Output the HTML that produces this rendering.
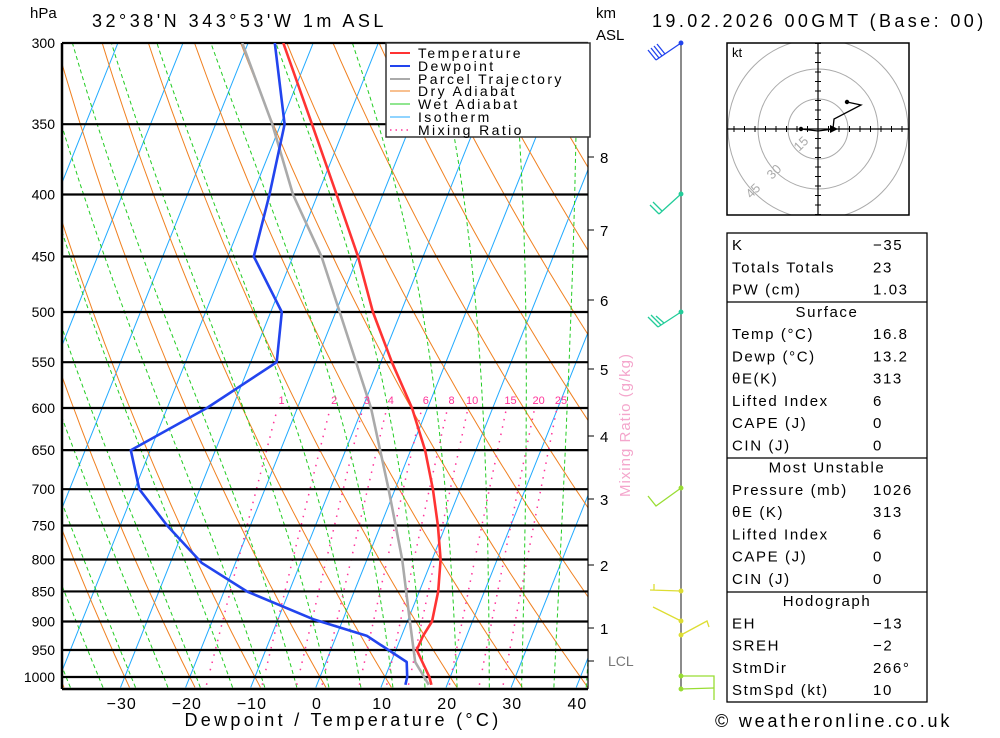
<!DOCTYPE html>
<html><head><meta charset="utf-8">
<style>
body{margin:0;background:#fff;}
svg text{font-family:"Liberation Sans",sans-serif;}
</style></head>
<body>
<svg id="chart" width="1000" height="733" viewBox="0 0 1000 733" xmlns="http://www.w3.org/2000/svg">
<defs><clipPath id="plotclip"><rect x="62" y="43" width="526" height="646"/></clipPath>
<clipPath id="hodoclip"><rect x="727" y="43" width="182" height="172"/></clipPath></defs>
<rect x="0" y="0" width="1000" height="733" fill="#fff"/>
<g id="bg" clip-path="url(#plotclip)"></g>
<g id="isobars"></g>
<g id="profiles" clip-path="url(#plotclip)"></g>
<g id="axes"></g>
<text x="30" y="18" font-size="15">hPa</text>
<text x="92" y="27" font-size="18" letter-spacing="3.5">32°38'N 343°53'W 1m ASL</text>
<text x="596" y="18" font-size="15">km</text>
<text x="596" y="40" font-size="15">ASL</text>
<text x="652" y="27" font-size="18" letter-spacing="3.4">19.02.2026 00GMT (Base: 00)</text>
<text x="343" y="726" font-size="18" text-anchor="middle" letter-spacing="3.3">Dewpoint / Temperature (°C)</text>
<text transform="translate(630,425) rotate(-90)" font-size="15" text-anchor="middle" fill="#f4a6cc" letter-spacing="1">Mixing Ratio (g/kg)</text>
<g>
<rect x="386" y="43" width="204" height="94" fill="#fff" stroke="#333" stroke-width="1.5"/>
<line x1="390" y1="53" x2="410" y2="53" stroke="#ff3333" stroke-width="2"/><text x="418" y="58" font-size="14" letter-spacing="2.4">Temperature</text>
<line x1="390" y1="66" x2="410" y2="66" stroke="#2244ee" stroke-width="2"/><text x="418" y="71" font-size="14" letter-spacing="2.4">Dewpoint</text>
<line x1="390" y1="79" x2="410" y2="79" stroke="#aaa" stroke-width="2"/><text x="418" y="84" font-size="14" letter-spacing="2.4">Parcel Trajectory</text>
<line x1="390" y1="91" x2="410" y2="91" stroke="#f08020" stroke-width="1"/><text x="418" y="96" font-size="14" letter-spacing="2.4">Dry Adiabat</text>
<line x1="390" y1="104" x2="410" y2="104" stroke="#22cc22" stroke-width="1"/><text x="418" y="109" font-size="14" letter-spacing="2.4">Wet Adiabat</text>
<line x1="390" y1="117" x2="410" y2="117" stroke="#22aaff" stroke-width="1"/><text x="418" y="122" font-size="14" letter-spacing="2.4">Isotherm</text>
<line x1="390" y1="130" x2="410" y2="130" stroke="#ff3399" stroke-width="1.5" stroke-dasharray="1.5 4"/><text x="418" y="135" font-size="14" letter-spacing="2.4">Mixing Ratio</text>
</g>
<g id="barbs">
<line x1="681" y1="43" x2="681" y2="690" stroke="#666" stroke-width="1.5"/>
<g stroke="#2244ee" stroke-width="1.3" fill="none"><circle cx="681" cy="43" r="1.8" fill="#2244ee"/><path d="M681 43 L656 60 M656 60 L648 50 M659 58 L651 48 M662 56 L654 46 M665 54 L657 44"/></g>
<g stroke="#22cc99" stroke-width="1.3" fill="none"><circle cx="681" cy="194" r="1.8" fill="#22cc99"/><path d="M681 194 L659 214 M659 214 L650 205 M662 211 L653 202"/></g>
<g stroke="#22cc99" stroke-width="1.3" fill="none"><circle cx="681" cy="312" r="1.8" fill="#22cc99"/><path d="M681 312 L658 327 M658 327 L648 317 M661 325 L651 315 M664 323 L656 316"/></g>
<g stroke="#99dd33" stroke-width="1.3" fill="none"><circle cx="681" cy="488" r="1.8" fill="#99dd33"/><path d="M681 488 L656 506 L648 496"/></g>
<g stroke="#dddd33" stroke-width="1.3" fill="none"><circle cx="681" cy="591" r="1.8" fill="#dddd33"/><path d="M681 591 L650 590 M654 590 L654 584"/></g>
<g stroke="#dddd33" stroke-width="1.3" fill="none"><circle cx="681" cy="621" r="1.8" fill="#dddd33"/><path d="M681 621 L653 607"/></g>
<g stroke="#dddd33" stroke-width="1.3" fill="none"><circle cx="681" cy="635" r="1.8" fill="#dddd33"/><path d="M681 635 L707 621 L709 627"/></g>
<g stroke="#99dd33" stroke-width="1.3" fill="none"><circle cx="681" cy="676" r="1.8" fill="#99dd33"/><path d="M681 676 L714 676 L714 700"/></g>
<g stroke="#99dd33" stroke-width="1.3" fill="none"><circle cx="681" cy="689" r="1.8" fill="#99dd33"/><path d="M681 689 L714 688"/></g>
</g>
<g>
<rect x="727" y="43" width="182" height="172" fill="#fff"/>
<g clip-path="url(#hodoclip)">
<circle cx="818" cy="129" r="30" fill="none" stroke="#aaa"/>
<circle cx="818" cy="129" r="60" fill="none" stroke="#aaa"/>
<circle cx="818" cy="129" r="90" fill="none" stroke="#aaa"/>
<line x1="727" y1="129" x2="909" y2="129" stroke="#000" stroke-width="1.2"/>
<line x1="818" y1="43" x2="818" y2="215" stroke="#000" stroke-width="1.2"/>
<path id="hticks" stroke="#000" fill="none"/>
</g>
<rect x="727" y="43" width="182" height="172" fill="none" stroke="#000" stroke-width="1.5"/>
<text x="732" y="57" font-size="13">kt</text>
<text transform="translate(799,152) rotate(-45)" font-size="13" fill="#aaa">15</text>
<text transform="translate(772,180) rotate(-45)" font-size="13" fill="#aaa">30</text>
<text transform="translate(751,199) rotate(-45)" font-size="13" fill="#aaa">45</text>
<path d="M801 129 L818 131 L833 129 L834 119 L861 105 L847 102" stroke="#000" stroke-width="1.3" fill="none"/>
<circle cx="801" cy="129" r="2.2"/><circle cx="847" cy="102" r="2.2"/><path d="M830 125 L838 129 L830 133Z"/>
</g>
<g font-size="15" letter-spacing="1.6">
<rect x="727" y="233" width="200" height="469" fill="#fff" stroke="#000" stroke-width="1.3"/>
<line x1="727" y1="302" x2="927" y2="302" stroke="#000" stroke-width="1.3"/>
<line x1="727" y1="458" x2="927" y2="458" stroke="#000" stroke-width="1.3"/>
<line x1="727" y1="592" x2="927" y2="592" stroke="#000" stroke-width="1.3"/>
<g id="tablerows"></g>
</g>
<text x="715" y="727" font-size="18" letter-spacing="2.8">© weatheronline.co.uk</text>
</svg>
<script>
// ---- data ----
const presLevels=[300,350,400,450,500,550,600,650,700,750,800,850,900,950,1000];
const tempP=[300,350,400,450,500,550,600,650,700,750,800,850,900,925,950,1000,1015];
const tempC=[-44.6,-35.2,-27.1,-20.0,-14.3,-8.3,-2.4,2.2,5.8,8.8,11.3,12.9,13.8,13.3,13.2,16.8,17.6];
const dewP=[300,350,400,450,500,550,600,650,700,750,805,850,896,925,972,1000,1015];
const dewC=[-45.9,-39.4,-37.4,-36.0,-28.3,-26.0,-33.9,-43.0,-39.3,-32.8,-25.2,-16.5,-4.6,4.7,12.4,13.4,13.6];
const parcelP=[300,350,400,450,500,600,700,800,900,972,1000,1015];
const parcelC=[-50.9,-41.3,-33.8,-25.6,-19.4,-8.7,-1.0,5.4,10.4,13.7,16.0,17.2];
const xTicks=[-30,-20,-10,0,10,20,30,40];
const mixRatios=[1,2,3,4,6,8,10,15,20,25];
const kmLabels=["1","2","3","4","5","6","7","8"];
const kmY=[628,565,499,436,369,300,230,157];
const tableRows=[["K","−35"],["Totals Totals","23"],["PW (cm)","1.03"],["@Surface",""],["Temp (°C)","16.8"],["Dewp (°C)","13.2"],["θE(K)","313"],["Lifted Index","6"],["CAPE (J)","0"],["CIN (J)","0"],["@Most Unstable",""],["Pressure (mb)","1026"],["θE (K)","313"],["Lifted Index","6"],["CAPE (J)","0"],["CIN (J)","0"],["@Hodograph",""],["EH","−13"],["SREH","−2"],["StmDir","266°"],["StmSpd (kt)","10"]];
// ---- axes funcs ----
const NS="http://www.w3.org/2000/svg";
function yOf(p){return 43+Math.log(p/300)/Math.log(1000/300)*634;}
function xOf(T,p){return 320+6.51*T+0.4*(677-yOf(p));}
function mk(tag,attrs,parent){const e=document.createElementNS(NS,tag);for(const k in attrs)e.setAttribute(k,attrs[k]);parent.appendChild(e);return e;}
const bg=document.getElementById('bg');
function polyD(pts){return pts.map((q,i)=>(i?'L':'M')+q[0].toFixed(1)+' '+q[1].toFixed(1)).join(' ');}
for(let T=-110;T<=40;T+=10){
  const e=mk('line',{x1:xOf(T,1020),y1:yOf(1020),x2:xOf(T,290),y2:yOf(290),stroke:'#22aaff','stroke-width':1},bg);
  
  
}
for(let th=-40;th<=200;th+=10){
  const pts=[];for(let p=1020;p>=290;p-=10){pts.push([xOf((th+273.15)*Math.pow(p/1000,0.2857)-273.15,p),yOf(p)]);}
  const e=mk('path',{d:polyD(pts),stroke:'#f08020','stroke-width':1,fill:'none'},bg);
  
  
}
function es(T){return 6.112*Math.exp(17.67*T/(T+243.5));}
for(let tw=-39;tw<=41;tw+=5){
  let Tb=tw;for(let p=1000;p<1020;p+=2){const Tk=Tb+273.15,rs=0.622*es(Tb)/(p-es(Tb));const g=(287*Tk/p)*(1+2.5e6*rs/(287*Tk))/(1004+2.5e6*2.5e6*rs*0.622/(287*Tk*Tk));Tb+=g*2;}
  let T=Tb;const pts=[];
  for(let p=1020;p>=290;p-=2){
    if(p%10===0)pts.push([xOf(T,p),yOf(p)]);
    const Tk=T+273.15,rs=0.622*es(T)/(p-es(T));
    const g=(287*Tk/p)*(1+2.5e6*rs/(287*Tk))/(1004+2.5e6*2.5e6*rs*0.622/(287*Tk*Tk));
    T-=g*2;
  }
  const e=mk('path',{d:polyD(pts),stroke:'#22cc22','stroke-width':1,fill:'none','stroke-dasharray':'4 3'},bg);
  
  
}
function tdFromW(w,p){const e=w*p/(622+w);const l=Math.log(e/6.112);return 243.5*l/(17.67-l);}
mixRatios.forEach(w=>{
  const pts=[];for(let p=1015;p>=600;p-=5)pts.push([xOf(tdFromW(w,p),p),yOf(p)]);
  const e=mk('path',{d:polyD(pts),stroke:'#ff3399','stroke-width':1.5,fill:'none','stroke-dasharray':'1.5 6'},bg);
  
  
  const t=mk('text',{x:xOf(tdFromW(w,600),600)+4,y:404,'font-size':11,fill:'#ff3399','text-anchor':'middle'},document.getElementById('axes'));
  t.textContent=w;
  
  
});
const iso=document.getElementById('isobars'),ax=document.getElementById('axes');
presLevels.forEach(p=>{
  const y=yOf(p);
  const l=mk('line',{x1:62,y1:y,x2:588,y2:y,stroke:'#000','stroke-width':2.2},iso);
  
  
  const t=mk('text',{x:55,y:y+5,'font-size':14,'text-anchor':'end'},ax);
  t.textContent=p;
  
  
});
mk('line',{x1:62,y1:43,x2:62,y2:689,stroke:'#000','stroke-width':2.5},ax);
mk('line',{x1:62,y1:689,x2:588,y2:689,stroke:'#000','stroke-width':2.5},ax);
mk('line',{x1:588,y1:43,x2:588,y2:689,stroke:'#000','stroke-width':1.2},ax);
xTicks.forEach(T=>{
  const t=mk('text',{x:320+6.51*T-3,y:709,'font-size':16,'text-anchor':'middle','letter-spacing':1},ax);
  t.textContent=T<0?'−'+(-T):T;
  
  
});
kmLabels.forEach((k,i)=>{
  mk('line',{x1:588,y1:kmY[i],x2:594,y2:kmY[i],stroke:'#000'},ax);
  const t=mk('text',{x:600,y:kmY[i]+6,'font-size':15},ax);
  t.textContent=k;
  
  
});
mk('line',{x1:588,y1:661,x2:594,y2:661,stroke:'#000'},ax);
const lcl=mk('text',{x:608,y:666,'font-size':14,fill:'#777'},ax);lcl.textContent='LCL';
const pr=document.getElementById('profiles');
function drawProf(P,T,color,name){
  const pts=P.map((p,i)=>[xOf(T[i],p),yOf(p)]);
  const e=mk('path',{d:polyD(pts),stroke:color,'stroke-width':2.6,fill:'none','stroke-linejoin':'round'},pr);
  
  
}
drawProf(parcelP,parcelC,'#aaaaaa','parcel-trajectory');
drawProf(dewP,dewC,'#2244ee','dewpoint-line');
drawProf(tempP,tempC,'#ff3333','temperature-line');
let d='';for(let i=-9;i<=9;i++){if(!i)continue;d+='M'+(818+i*10.5)+' 126 L'+(818+i*10.5)+' 132 M815 '+(129+i*9.5)+' L821 '+(129+i*9.5)+' ';}
document.getElementById('hticks').setAttribute('d',d);
const tr=document.getElementById('tablerows');
tableRows.forEach((r,i)=>{
  const y=250+i*22.25;
  if(r[0][0]==='@'){const t=mk('text',{x:827,y:y,'text-anchor':'middle'},tr);t.textContent=r[0].slice(1);
    
    
  }else{
    const a=mk('text',{x:732,y:y},tr);a.textContent=r[0];
    
    
    const b=mk('text',{x:873,y:y},tr);b.textContent=r[1];
    
    
  }
});
</script>
</body></html>
